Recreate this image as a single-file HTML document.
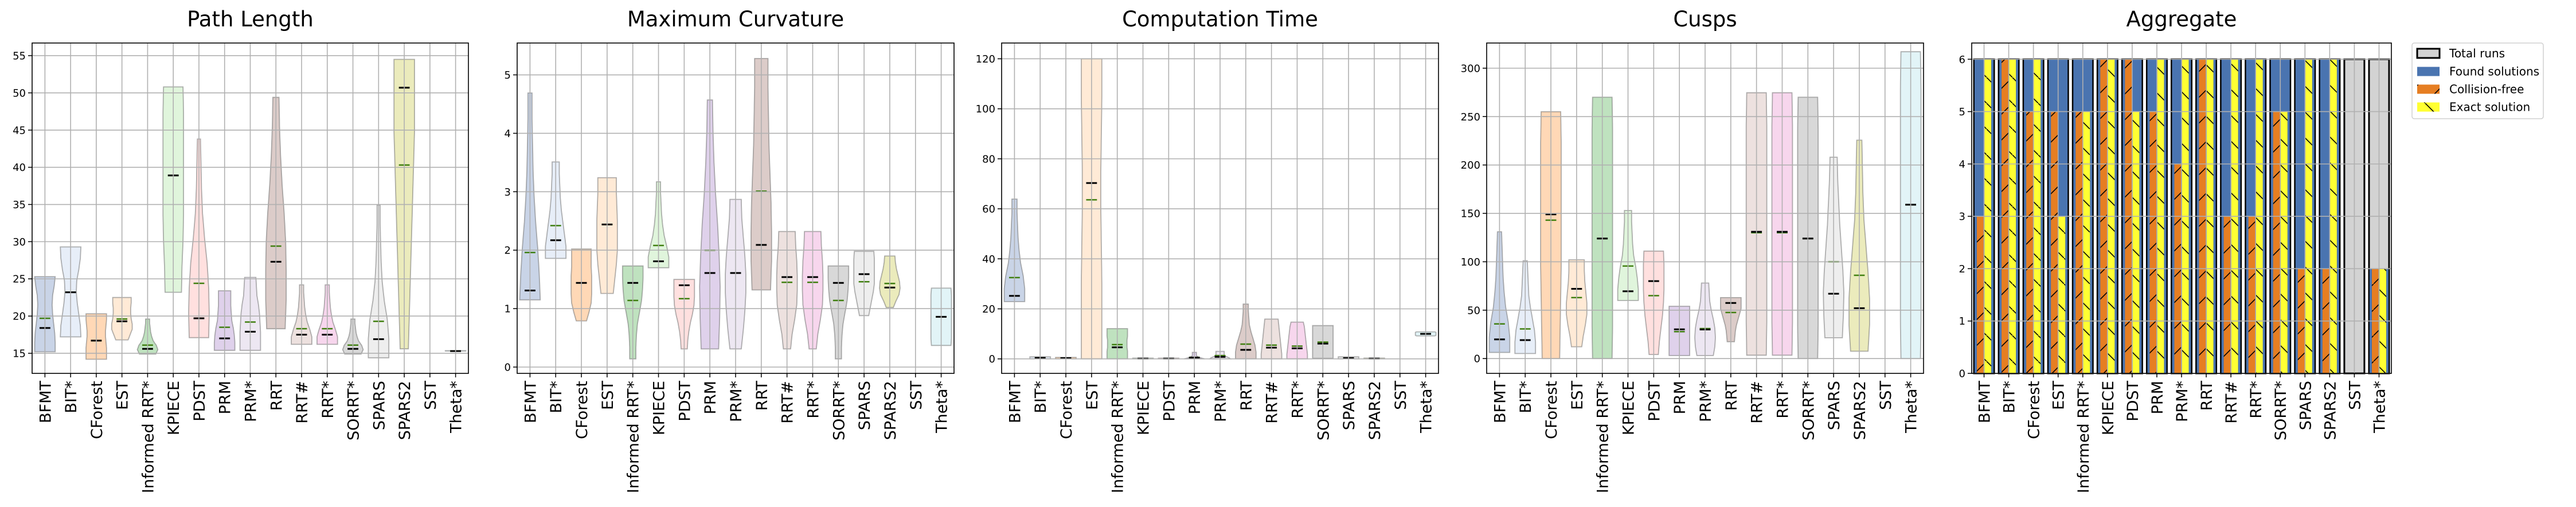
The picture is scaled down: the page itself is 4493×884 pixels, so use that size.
<!DOCTYPE html>
<html><head><meta charset="utf-8"><title>Planner benchmark</title>
<style>
html,body{margin:0;padding:0;background:#fff;}
svg{display:block;font-family:"DejaVu Sans","Liberation Sans",sans-serif;}
</style></head>
<body>
<svg id="chart" width="4493" height="884" viewBox="0 0 4493 884" xmlns="http://www.w3.org/2000/svg">
<defs>
<pattern id="hatchFwd" patternUnits="userSpaceOnUse" width="45" height="45"><line x1="0" y1="45" x2="45" y2="0" stroke="#000" stroke-width="1.6"/></pattern>
<pattern id="hatchBack" patternUnits="userSpaceOnUse" width="45" height="45"><line x1="0" y1="0" x2="45" y2="45" stroke="#000" stroke-width="1.6"/></pattern>
</defs>
</svg>
<script>
const categories=["BFMT","BIT*","CForest","EST","Informed RRT*","KPIECE","PDST","PRM","PRM*","RRT","RRT#","RRT*","SORRT*","SPARS","SPARS2","SST","Theta*"];

// Path Length
const pathLo=[15.2,17.2,14.2,16.8,14.9,23.2,17.1,15.4,15.4,18.3,16.2,16.2,14.9,14.4,15.6,null,15.3];
const pathHi=[25.3,29.3,20.3,22.5,19.6,50.8,43.8,23.4,25.2,49.4,24.2,24.2,19.6,34.9,54.5,null,15.35];
const pathMed=[18.4,23.2,16.7,19.3,15.6,38.9,19.7,17.0,17.9,27.3,17.5,17.5,15.6,16.9,50.7,null,15.3];
const pathMean=[19.7,23.2,16.7,19.6,16.1,38.9,24.4,18.5,19.2,29.4,18.3,18.3,16.1,19.3,40.3,null,15.3];
const pathShape=[[1,1,0.95,0.85,0.75,0.7,0.75,0.9,1],[1,0.95,0.8,0.65,0.55,0.6,0.8,0.95,1],[1,1,1,0.95,0.9,0.9,0.95,1,1],[0.6,0.8,1,1,0.9,0.85,0.85,0.9,0.9],[0.8,1,0.85,0.55,0.4,0.3,0.25,0.2,0.2],[0.8,0.85,0.95,1,1,1,1,1,0.95],[0.95,1,0.95,0.8,0.55,0.35,0.25,0.2,0.15],[1,1,0.95,0.85,0.7,0.65,0.6,0.6,0.6],[1,1,1,0.95,0.9,0.8,0.65,0.6,0.55],[0.9,1,1,0.95,0.8,0.6,0.45,0.35,0.3],[1,1,0.8,0.55,0.4,0.3,0.25,0.2,0.2],[1,1,0.8,0.55,0.4,0.3,0.25,0.2,0.2],[0.8,1,0.85,0.55,0.4,0.3,0.25,0.2,0.2],[1,1,0.85,0.55,0.35,0.25,0.2,0.15,0.15],[0.4,0.5,0.6,0.7,0.8,0.9,1,1,1],null,[1,1,1,1,1,1,1,1,1]];
const pathTicks=[15,20,25,30,35,40,45,50,55];

// Maximum Curvature
const curvLo=[1.15,1.86,0.79,1.26,0.14,1.70,0.31,0.31,0.31,1.32,0.31,0.31,0.14,0.88,1.02,null,0.37];
const curvHi=[4.69,3.51,2.02,3.24,1.73,3.17,1.50,4.57,2.87,5.28,2.32,2.32,1.73,1.98,1.90,null,1.35];
const curvMed=[1.31,2.17,1.44,2.44,1.44,1.81,1.40,1.61,1.61,2.09,1.54,1.54,1.44,1.59,1.36,null,0.86];
const curvMean=[1.96,2.42,1.44,2.44,1.14,2.08,1.17,2.00,1.61,3.01,1.45,1.45,1.14,1.46,1.43,null,0.86];
const curvShape=[[1,0.9,0.75,0.55,0.4,0.3,0.25,0.2,0.2],[1,1,0.85,0.7,0.55,0.45,0.4,0.35,0.35],[0.5,0.75,0.95,1,1,1,0.95,0.95,0.95],[0.6,0.75,0.9,1,1,1,0.95,0.9,0.9],[0.3,0.3,0.35,0.45,0.65,0.85,0.95,1,1],[1,1,0.8,0.55,0.4,0.3,0.25,0.2,0.2],[0.3,0.35,0.45,0.6,0.8,0.95,1,1,1],[0.85,0.95,1,0.9,0.75,0.55,0.4,0.3,0.25],[0.55,0.75,0.9,1,1,0.9,0.75,0.6,0.55],[0.9,1,1,0.95,0.85,0.75,0.7,0.65,0.65],[0.35,0.5,0.75,0.95,1,1,0.95,0.85,0.8],[0.35,0.5,0.75,0.95,1,1,0.95,0.85,0.8],[0.3,0.3,0.35,0.45,0.65,0.85,0.95,1,1],[0.45,0.6,0.75,0.9,1,1,1,1,0.95],[0.35,0.6,0.9,1,0.95,0.8,0.65,0.55,0.5],null,[0.95,1,1,1,1,1,1,1,0.95]];
const curvTicks=[0,1,2,3,4,5];

// Computation Time
const timeLo=[22.9,0,0,0,0,0,0,0,0,0,0,0,0.2,0,0,null,9.2];
const timeHi=[63.9,0.8,0.6,120,12.1,0.3,0.3,2.6,3.0,21.9,15.9,14.7,13.3,0.8,0.3,null,10.8];
const timeMed=[25.2,0.4,0.3,70.3,4.6,0.1,0.1,0.5,0.8,3.6,4.5,4.2,6.1,0.3,0.1,null,10.0];
const timeMean=[32.5,0.4,0.3,63.6,5.7,0.1,0.1,0.6,1.3,5.9,5.5,5.1,6.7,0.3,0.1,null,10.0];
const timeShape=[[1,1,0.85,0.6,0.45,0.35,0.3,0.25,0.25],[1,1,1,1,1,1,1,1,1],[1,1,1,1,1,1,1,1,1],[1,1,1,0.95,0.9,0.9,0.95,1,1],[1,1,1,0.95,0.95,0.95,1,1,1],[1,1,1,1,1,1,1,1,1],[1,1,1,1,1,1,1,1,1],[1,0.7,0.4,0.3,0.2,0.2,0.2,0.2,0.2],[1,0.9,0.7,0.5,0.4,0.4,0.4,0.4,0.4],[1,1,0.9,0.7,0.5,0.35,0.3,0.25,0.25],[1,1,0.95,0.9,0.85,0.8,0.75,0.7,0.65],[1,1,0.95,0.9,0.85,0.8,0.75,0.7,0.6],[1,1,1,1,1,1,1,1,1],[1,1,1,1,1,1,1,1,1],[1,1,1,1,1,1,1,1,1],null,[0.9,1,1,1,1,1,1,1,0.9]];
const timeTicks=[0,20,40,60,80,100,120];

// Cusps
const cuspLo=[6.3,5.2,0,12.2,0,60,4.2,3.1,3.1,17.4,3.5,3.5,0,21.5,7.6,null,0];
const cuspHi=[131,101,255,102,270,153,111,54,78,63,274.6,274.6,270,208,225.6,null,317];
const cuspMed=[19.8,19.1,149,72,124,69.5,80,30.2,30,57.4,131,131,124,67,52,null,159];
const cuspMean=[35.8,30.6,143,63,124,95.6,65,27.8,31,47.6,130,130,124,100,86,null,159];
const cuspShape=[[1,1,0.85,0.6,0.45,0.35,0.3,0.25,0.2],[1,1,0.9,0.7,0.5,0.35,0.3,0.25,0.2],[0.85,0.9,0.95,1,1,1,1,1,0.95],[0.5,0.65,0.85,1,1,0.9,0.8,0.75,0.75],[0.95,1,1,1,1,1,1,1,0.95],[1,1,0.9,0.75,0.55,0.45,0.4,0.35,0.35],[0.45,0.55,0.7,0.85,0.95,1,1,1,0.95],[1,1,1,1,1,1,1,1,1],[0.8,0.95,1,0.95,0.8,0.6,0.45,0.4,0.35],[0.35,0.4,0.45,0.55,0.7,0.85,1,1,1],[0.95,1,1,1,1,1,1,1,0.95],[0.95,1,1,1,1,1,1,1,0.95],[0.95,1,1,1,1,1,1,1,0.95],[0.85,0.95,1,0.9,0.75,0.6,0.5,0.4,0.35],[0.85,1,1,0.85,0.65,0.45,0.35,0.3,0.25],null,[0.95,1,1,1,1,1,1,1,0.95]];
const cuspTicks=[0,50,100,150,200,250,300];

// Aggregate
const totalRuns=[6,6,6,6,6,6,6,6,6,6,6,6,6,6,6,6,6];
const foundSolutions=[6,6,6,6,6,6,6,6,6,6,6,6,6,6,6,0,2];
const collisionFree=[3,6,5,5,5,6,6,5,4,6,3,3,5,2,2,0,2];
const exactSolution=[6,6,6,3,5,6,5,6,6,6,6,6,5,6,6,0,2];
const aggTicks=[0,1,2,3,4,5,6];

const violinColors=["#4c72b0","#aec7e8","#ff7f0e","#ffbb78","#2ca02c","#98df8a","#ff9896","#9467bd","#c5b0d5","#8c564b","#c49c94","#e377c2","#7f7f7f","#c7c7c7","#bcbd22","#dbdb8d","#9edae5"];
const NS="http://www.w3.org/2000/svg";
const svg=document.getElementById("chart");
const T=75,B=651;
function mk(tag,attrs,parent){const e=document.createElementNS(NS,tag);for(const k in attrs)e.setAttribute(k,attrs[k]);(parent||svg).appendChild(e);return e;}

function makeAxes(L,R,ymin,ymax,ticks,title,key){
  const g=mk("g",{});
  
  
  const n=categories.length, step=(R-L)/n;
  const xs=i=>L+(i+0.5)*step;
  const ys=v=>B-(v-ymin)/(ymax-ymin)*(B-T);
  const t=mk("text",{x:(L+R)/2,y:46,"text-anchor":"middle","font-size":"37"},g);
  t.textContent=title;
  
  
  return {g,xs,ys,step,L,R,ticks,key};
}
function finishAxes(ax){
  const {g,xs,ys,L,R,ticks,key}=ax;
  const grid=mk("g",{stroke:"#b0b0b0","stroke-width":"1.6"},g);
  
  
  categories.forEach((c,i)=>{mk("line",{x1:xs(i),x2:xs(i),y1:T,y2:B},grid);});
  ticks.forEach(v=>{mk("line",{x1:L,x2:R,y1:ys(v),y2:ys(v)},grid);});
  const sp=mk("rect",{x:L,y:T,width:R-L,height:B-T,fill:"none",stroke:"#000","stroke-width":"1.6"},g);
  
  
  const yt=mk("g",{},g);
  
  
  ticks.forEach(v=>{
    mk("line",{x1:L-7,x2:L,y1:ys(v),y2:ys(v),stroke:"#000","stroke-width":"1.5"},yt);
    const tx=mk("text",{x:L-11,y:ys(v)+6.5,"text-anchor":"end","font-size":"18"},yt);
    tx.textContent=String(v);
    
    
  });
  const xt=mk("g",{},g);
  
  
  categories.forEach((c,i)=>{
    const x=xs(i);
    mk("line",{x1:x,x2:x,y1:B,y2:B+7,stroke:"#000","stroke-width":"1.5"},xt);
    const tx=mk("text",{x:0,y:0,"text-anchor":"end","font-size":"27",transform:`translate(${x+10},${B+13}) rotate(-90)`},xt);
    tx.textContent=c;
    
    
  });
}
function violinPanel(L,R,ymin,ymax,ticks,title,key,lo,hi,med,mean,shape){
  const ax=makeAxes(L,R,ymin,ymax,ticks,title,key);
  const {g,xs,ys,step}=ax;
  const half=0.4*step;
  categories.forEach((c,i)=>{
    if(lo[i]===null||hi[i]===null)return;
    const prof=shape[i];
    const x=xs(i);
    const N=40;
    const right=[],left=[];
    const yLo=ys(lo[i]), yHi=ys(hi[i]);
    for(let k=0;k<=N;k++){
      const f=k/N;
      const p=f*(prof.length-1), a=Math.floor(p), b=Math.min(a+1,prof.length-1), r=p-a;
      const w=(prof[a]*(1-r)+prof[b]*r)*half;
      const yy=yLo+(yHi-yLo)*f;
      right.push([x+w,yy]);left.push([x-w,yy]);
    }
    let d="M"+right.map(p=>p[0].toFixed(1)+","+p[1].toFixed(1)).join(" L");
    d+=" L"+left.reverse().map(p=>p[0].toFixed(1)+","+p[1].toFixed(1)).join(" L")+" Z";
    const v=mk("path",{d,fill:violinColors[i],"fill-opacity":"0.3",stroke:"#666","stroke-opacity":"0.5","stroke-width":"1.8"},g);
    
    
    const mw=0.21*step;
    const m1=mk("line",{x1:x-mw,x2:x+mw,y1:ys(mean[i]),y2:ys(mean[i]),stroke:"#3f7f0f","stroke-width":"2.5"},g);
    
    
    const m2=mk("line",{x1:x-mw,x2:x+mw,y1:ys(med[i]),y2:ys(med[i]),stroke:"#000","stroke-width":"3"},g);
    
    
  });
  finishAxes(ax);
}
violinPanel(56,817,12.3,56.7,pathTicks,"Path Length","path-length",pathLo,pathHi,pathMed,pathMean,pathShape);
violinPanel(902,1664,-0.108,5.545,curvTicks,"Maximum Curvature","max-curvature",curvLo,curvHi,curvMed,curvMean,curvShape);
violinPanel(1747,2509,-5.8,126.3,timeTicks,"Computation Time","computation-time",timeLo,timeHi,timeMed,timeMean,timeShape);
violinPanel(2593,3355,-15.3,326,cuspTicks,"Cusps","cusps",cuspLo,cuspHi,cuspMed,cuspMean,cuspShape);

// Aggregate bars
(function(){
  const ax=makeAxes(3439,4171,0,6.31,aggTicks,"Aggregate","aggregate");
  const {g,xs,ys}=ax;
  categories.forEach((c,i)=>{
    const x=xs(i);
    const slug=c.toLowerCase().replace(/[^a-z0-9]+/g,'-');
    const t=mk("rect",{x:x-17.5,y:ys(totalRuns[i]),width:35,height:ys(0)-ys(totalRuns[i]),fill:"#d3d3d3",stroke:"#000","stroke-width":"3"},g);
    
    
    if(foundSolutions[i]>0){
      const b=mk("rect",{x:x-16.5,y:ys(foundSolutions[i]),width:33,height:ys(0)-ys(foundSolutions[i]),fill:"#4a74b0"},g);
      
      
    }
    if(collisionFree[i]>0){
      const h=ys(0)-ys(collisionFree[i]);
      const o=mk("rect",{x:x-12.5,y:ys(collisionFree[i]),width:11.7,height:h,fill:"#e67e22"},g);
      
      
      mk("rect",{x:x-12.5,y:ys(collisionFree[i]),width:11.7,height:h,fill:"url(#hatchFwd)"},g);
    }
    if(exactSolution[i]>0){
      const h=ys(0)-ys(exactSolution[i]);
      const yb=mk("rect",{x:x+0.8,y:ys(exactSolution[i]),width:11.7,height:h,fill:"#ffff33"},g);
      
      
      mk("rect",{x:x+0.8,y:ys(exactSolution[i]),width:11.7,height:h,fill:"url(#hatchBack)"},g);
    }
  });
  finishAxes(ax);
})();

// Legend
(function(){
  const lg=mk("g",{});
  
  
  mk("rect",{x:4207,y:75,width:229,height:132,rx:4,fill:"#fff",stroke:"#d0d0d0","stroke-width":"1.5"},lg);
  const items=[["Total runs","#d3d3d3",null,true],["Found solutions","#4a74b0",null,false],["Collision-free","#e67e22","url(#hatchFwd)",false],["Exact solution","#ffff33","url(#hatchBack)",false]];
  const ysL=[93,124.6,155.5,186.6];
  items.forEach((it,k)=>{
    const e=mk("g",{},lg);
    
    
    mk("rect",{x:4216,y:ysL[k]-8,width:39,height:16,fill:it[1],stroke:it[3]?"#000":"none","stroke-width":it[3]?"3":"0"},e);
    if(it[2])mk("rect",{x:4216,y:ysL[k]-8,width:39,height:16,fill:it[2]},e);
    const t=mk("text",{x:4272,y:ysL[k]+7,"font-size":"20"},e);
    t.textContent=it[0];
  });
})();
</script>
</body></html>
